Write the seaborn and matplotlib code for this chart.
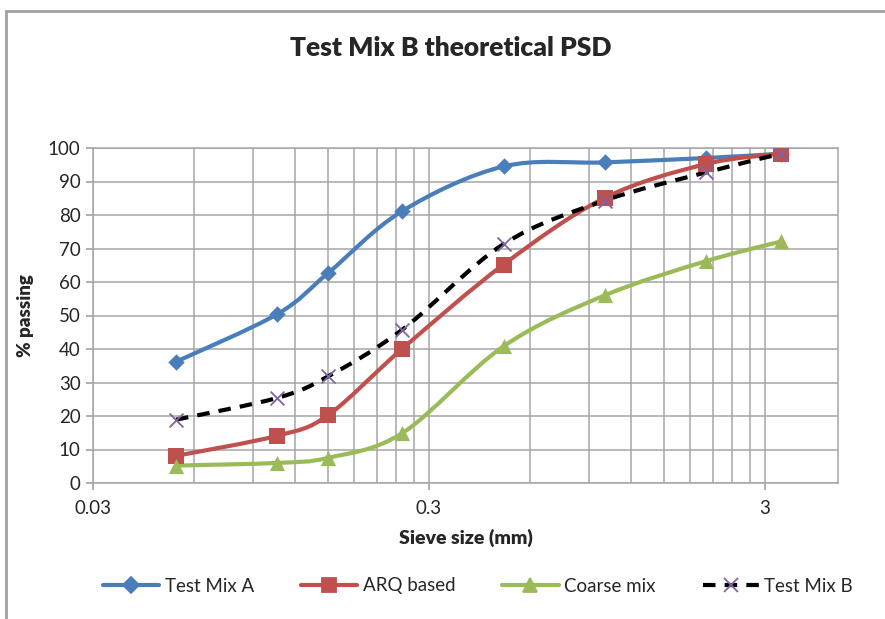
import numpy as np
import pandas as pd
import seaborn as sns
import matplotlib.pyplot as plt
from matplotlib.path import Path
from matplotlib.patches import PathPatch, Rectangle
from matplotlib.lines import Line2D
from matplotlib.ticker import FixedLocator, NullFormatter

sieve = [0.053, 0.106, 0.15, 0.25, 0.5, 1.0, 2.0, 3.35]
mix_a = [36.2, 50.4, 62.6, 81.2, 94.5, 95.7, 97.0, 98.3]
arq = [8.1, 14.1, 20.2, 40.1, 65.2, 85.1, 95.2, 98.3]
coarse = [5.2, 6.0, 7.5, 14.9, 40.8, 56.0, 66.2, 72.1]
mix_b = [18.9, 25.4, 31.8, 45.8, 71.3, 84.3, 92.7, 98.3]

names = ["Test Mix A", "ARQ based", "Coarse mix", "Test Mix B"]
colors = {"Test Mix A": "#4A7EBB", "ARQ based": "#C0504D",
          "Coarse mix": "#9BBB59", "Test Mix B": "#000000"}
mcolors = {"Test Mix A": "#4A7EBB", "ARQ based": "#C0504D",
           "Coarse mix": "#9BBB59", "Test Mix B": "#8064A2"}
markers = {"Test Mix A": "D", "ARQ based": "s", "Coarse mix": "^", "Test Mix B": "x"}
msizes = {"Test Mix A": 70, "ARQ based": 120, "Coarse mix": 120, "Test Mix B": 100}
styles = {"Test Mix A": "-", "ARQ based": "-", "Coarse mix": "-", "Test Mix B": (0, (3.0, 2.2))}

df = pd.DataFrame({"Sieve": sieve * 4,
                   "Passing": mix_a + arq + coarse + mix_b,
                   "Series": np.repeat(names, len(sieve))})

sns.set_theme(style="white")
plt.rcParams["font.family"] = ["Lato", "DejaVu Sans"]

fig = plt.figure(figsize=(8.85, 6.19), dpi=100)
ax = fig.add_axes([93 / 885, 1 - 483 / 619, (838 - 93) / 885, (483 - 148) / 619])


def smooth_path(xs, ys):
    # Excel-like smoothed line: Catmull-Rom bezier in log-x space
    lx = np.log10(xs)
    pts = np.column_stack([lx, ys])
    verts = [pts[0]]
    codes = [Path.MOVETO]
    n = len(pts)
    for i in range(n - 1):
        p0 = pts[i - 1] if i > 0 else pts[i]
        p1 = pts[i]
        p2 = pts[i + 1]
        p3 = pts[i + 2] if i + 2 < n else pts[i + 1]
        c1 = p1 + (p2 - p0) / 6.0
        c2 = p2 - (p3 - p1) / 6.0
        verts += [c1, c2, p2]
        codes += [Path.CURVE4] * 3
    verts = np.array(verts)
    verts[:, 0] = 10 ** verts[:, 0]
    return Path(verts, codes)


for name in names:
    sub = df[df.Series == name]
    patch = PathPatch(smooth_path(sub.Sieve.values, sub.Passing.values),
                      fill=False, edgecolor=colors[name], lw=3,
                      linestyle=styles[name], zorder=3, capstyle="butt")
    ax.add_patch(patch)

for name in names:
    sub = df[df.Series == name]
    if markers[name] == "x":
        sns.scatterplot(data=sub, x="Sieve", y="Passing", ax=ax, marker="x",
                        color=mcolors[name], s=msizes[name], linewidth=1.3, zorder=4)
    else:
        sns.scatterplot(data=sub, x="Sieve", y="Passing", ax=ax, marker=markers[name],
                        color=mcolors[name], s=msizes[name], linewidth=0, zorder=4)

ax.set_xscale("log")
ax.set_xlim(0.03, 4.95)
ax.set_ylim(0, 100)
ax.set_yticks(range(0, 101, 10))
ax.xaxis.set_major_locator(FixedLocator([0.03, 0.3, 3]))
ax.set_xticklabels(["0.03", "0.3", "3"])
minor = [0.03 * k for k in range(2, 10)] + [0.3 * k for k in range(2, 10)]
ax.xaxis.set_minor_locator(FixedLocator(minor))
ax.xaxis.set_minor_formatter(NullFormatter())
ax.grid(True, which="both", color="#A6A6A6", lw=1.1)
ax.set_axisbelow(True)
for s in ax.spines.values():
    s.set_color("#A6A6A6")
    s.set_linewidth(1.1)
ax.tick_params(axis="y", which="major", left=True, length=5, color="#A6A6A6", labelsize=13.5, pad=4)
ax.tick_params(axis="x", which="major", bottom=True, length=5, color="#A6A6A6", labelsize=13.5, pad=7)
ax.tick_params(axis="x", which="minor", bottom=False)

ax.set_xlabel("Sieve size (mm)", fontsize=14, fontweight="heavy", labelpad=9)
ax.set_ylabel("% passing", fontsize=13.5, fontweight="heavy", labelpad=10)
fig.text(451 / 885, 1 - 48 / 619, "Test Mix B theoretical PSD", ha="center", va="center",
         fontsize=19, fontweight="heavy")

handles = []
for name in names:
    ms = 8 if markers[name] == "D" else 10
    handles.append(Line2D([0], [0], color=colors[name], lw=3, linestyle=styles[name],
                          marker=markers[name], markersize=ms, markerfacecolor=mcolors[name],
                          markeredgecolor=mcolors[name], markeredgewidth=1.3))
fig.legend(handles, names, loc="center", bbox_to_anchor=(478 / 885, 1 - 586 / 619), ncol=4,
           frameon=False, fontsize=13.5, handlelength=3.0, columnspacing=2.5, handletextpad=0.3)

fig.patches.append(Rectangle((6 / 885, -0.1), 1.2, 1 - 11 / 619 + 0.1, transform=fig.transFigure,
                             fill=False, edgecolor="#A0A0A0", lw=2, zorder=0))

fig.savefig("out.png", dpi=100)
